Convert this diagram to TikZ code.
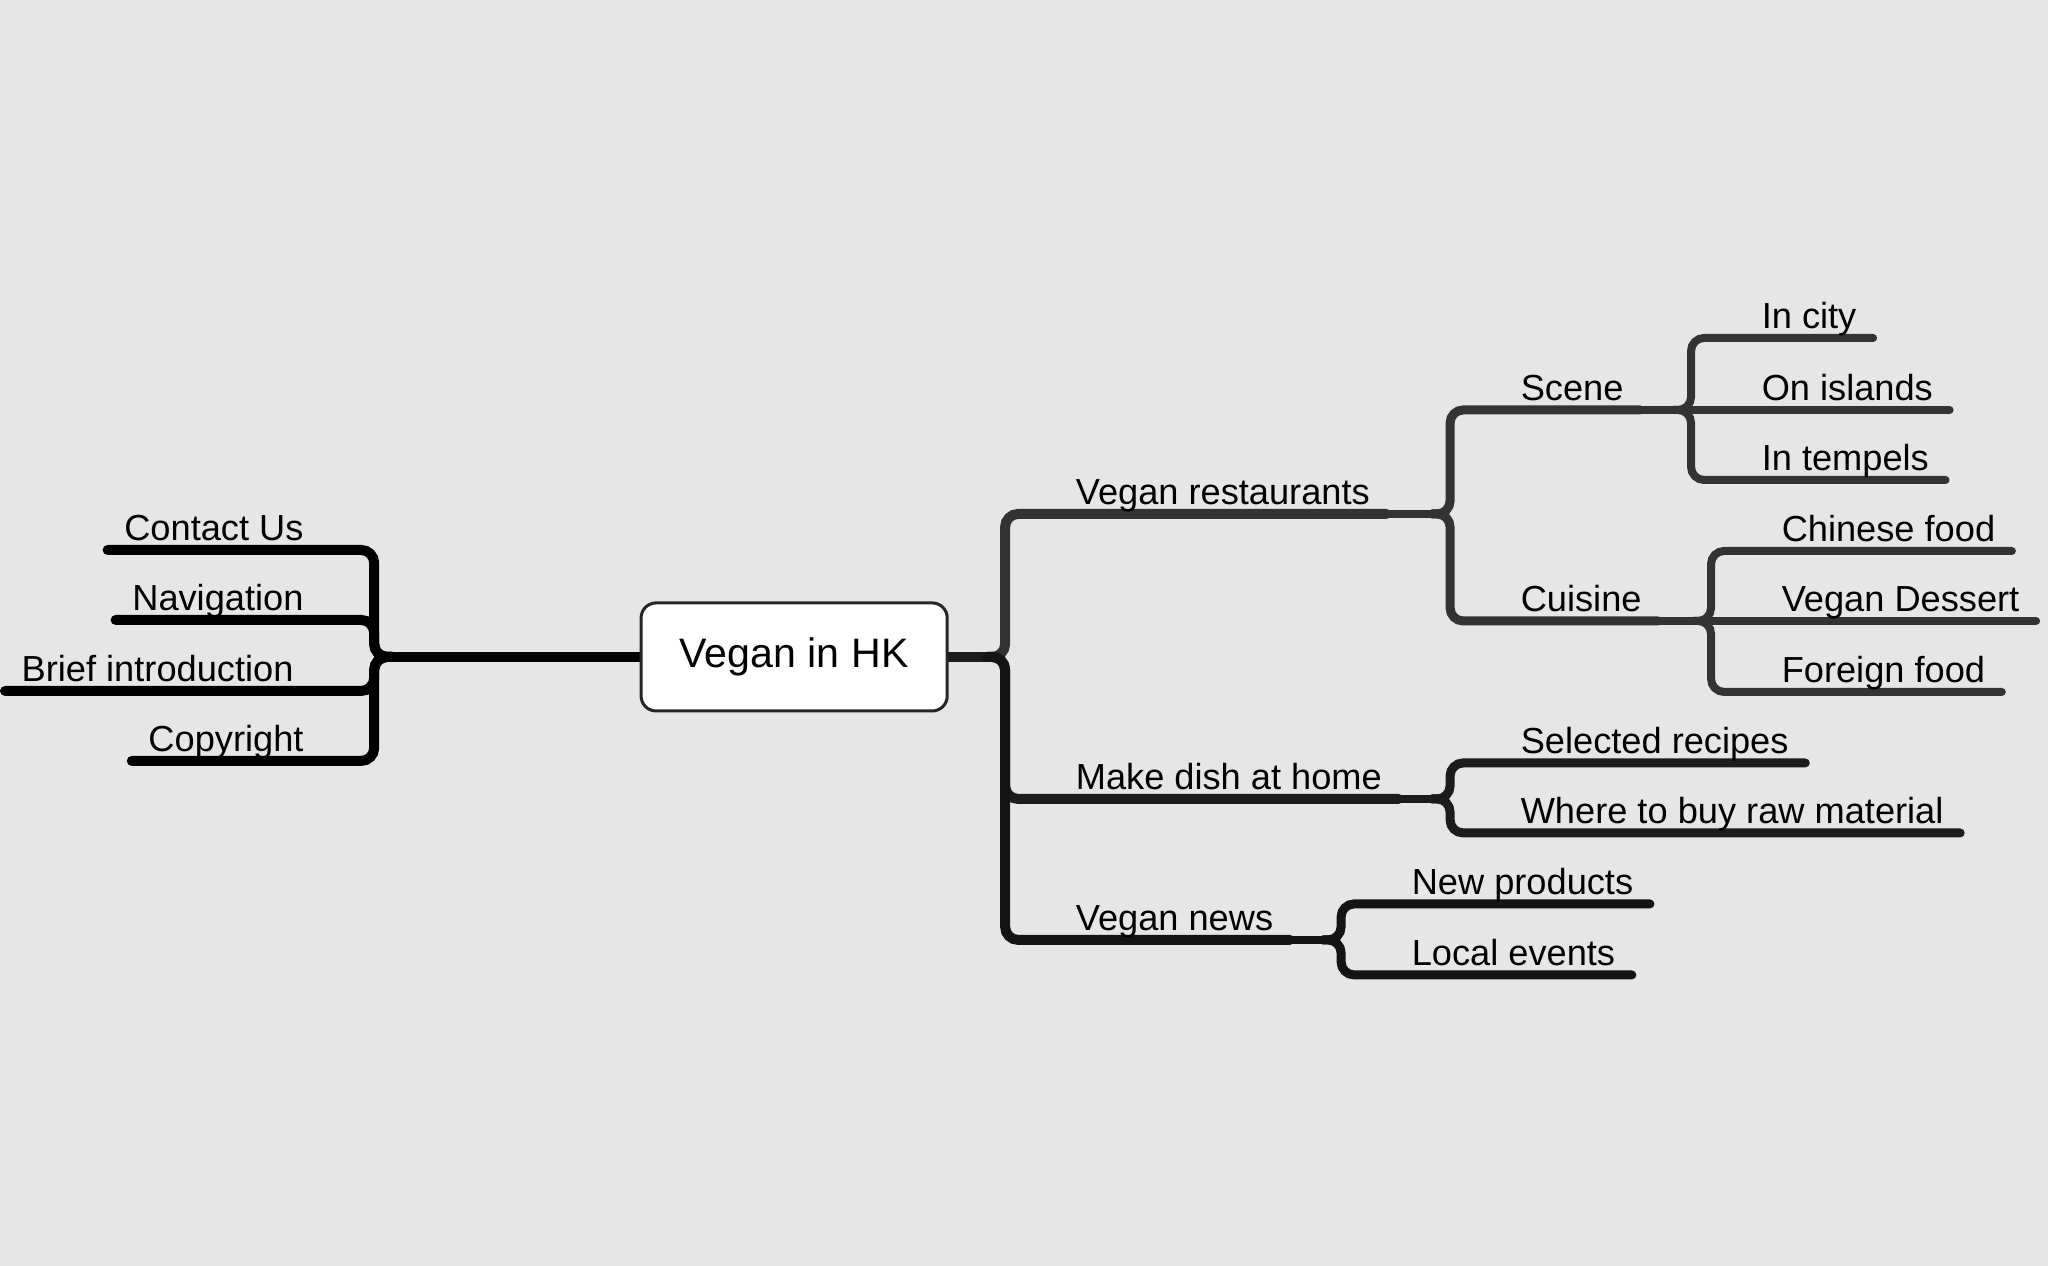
\documentclass[tikz,border=0pt]{standalone}
\usepackage{fontspec}
\setmainfont{Liberation Sans}
\definecolor{bgcol}{HTML}{E6E6E6}
\definecolor{restcol}{HTML}{333333}
\definecolor{dishcol}{HTML}{1C1C1C}
\definecolor{newscol}{HTML}{141414}
\pgfdeclarelayer{lines}
\pgfsetlayers{lines,main}
\begin{document}
\begin{tikzpicture}[x=0.01cm,y=-0.01cm,
  topic/.style={inner xsep=0.16cm,inner ysep=0.09cm,text depth=0pt,font=\fontsize{10.3}{12}\selectfont},
  rtopic/.style={topic,anchor=south west},
  ltopic/.style={topic,anchor=south east},
  branch/.style={line cap=round,rounded corners=0.13cm},
  lvl1/.style={branch,line width=0.10cm},
  lvl2/.style={branch,line width=0.09cm},
  lvl3/.style={branch,line width=0.08cm},
  stub/.style={line cap=round,line width=0.08cm}]

\begin{pgfonlayer}{lines}
\useasboundingbox[fill=bgcol] (0,0) rectangle (2048,1266);
\end{pgfonlayer}

\node[draw=black!85,fill=white,rounded corners=0.15cm,line width=0.03cm,minimum width=3.06cm,minimum height=1.08cm,font=\fontsize{11.7}{14}\selectfont] (root) at (794,657) {Vegan in HK};

% left side
\node[ltopic] (contact) at (320,550) {Contact Us};
\node[ltopic] (navigation) at (320,620) {Navigation};
\node[ltopic] (brief) at (310,691) {Brief introduction};
\node[ltopic] (copyright) at (320,761) {Copyright};

% right side
\node[rtopic] (rest) at (1059,514) {Vegan restaurants};
\node[rtopic] (dish) at (1059,799) {Make dish at home};
\node[rtopic] (news) at (1059,940) {Vegan news};

\node[rtopic] (scene) at (1504,410) {Scene};
\node[rtopic] (cuisine) at (1504,621) {Cuisine};
\node[rtopic] (recipes) at (1504,763) {Selected recipes};
\node[rtopic] (buy) at (1504,833) {Where to buy raw material};
\node[rtopic] (products) at (1395,904) {New products};
\node[rtopic] (events) at (1395,975) {Local events};

\node[rtopic] (city) at (1745,338) {In city};
\node[rtopic] (islands) at (1745,410) {On islands};
\node[rtopic] (tempels) at (1745,480) {In tempels};
\node[rtopic] (chinese) at (1765,551) {Chinese food};
\node[rtopic] (dessert) at (1765,621) {Vegan Dessert};
\node[rtopic] (foreign) at (1765,692) {Foreign food};

% bars and junctions
\coordinate (b-left) at (374,657);   \coordinate (j-left) at (392,657);
\coordinate (b-right) at (1005,657); \coordinate (j-right) at (987,657);
\coordinate (b-rest) at (1450,514);  \coordinate (j-rest) at (1432,514);
\coordinate (b-dish) at (1450,799);  \coordinate (j-dish) at (1432,799);
\coordinate (b-news) at (1341,940);  \coordinate (j-news) at (1323,940);
\coordinate (b-scene) at (1691,410); \coordinate (j-scene) at (1673,410);
\coordinate (b-cuis) at (1711,621);  \coordinate (j-cuis) at (1693,621);

\begin{pgfonlayer}{lines}
\draw[lvl1] (root.west) -- (j-left);
\foreach \nm in {contact,navigation,brief,copyright}{
\draw[lvl1] (j-left) -| (b-left |- \nm.south east) -- (\nm.south west);
}

\draw[lvl1,dishcol] (root.east) -- (j-right);
\foreach \nm/\col in {rest/restcol,dish/dishcol,news/newscol}{
\draw[lvl1,\col] (j-right) -| (b-right |- \nm.south west) -- (\nm.south east);
}

\draw[stub,restcol] (rest.south east) -- (j-rest);
\foreach \nm in {scene,cuisine}{
\draw[lvl2,restcol] (j-rest) -| (b-rest |- \nm.south west) -- (\nm.south east);
}
\draw[stub,dishcol] (dish.south east) -- (j-dish);
\foreach \nm in {recipes,buy}{
\draw[lvl2,dishcol] (j-dish) -| (b-dish |- \nm.south west) -- (\nm.south east);
}
\draw[stub,newscol] (news.south east) -- (j-news);
\foreach \nm in {products,events}{
\draw[lvl2,newscol] (j-news) -| (b-news |- \nm.south west) -- (\nm.south east);
}

\draw[stub,restcol] (scene.south east) -- (j-scene);
\draw[lvl3,restcol] (j-scene) -- (islands.south east);
\foreach \nm in {city,tempels}{
\draw[lvl3,restcol] (j-scene) -| (b-scene |- \nm.south west) -- (\nm.south east);
}
\draw[stub,restcol] (cuisine.south east) -- (j-cuis);
\draw[lvl3,restcol] (j-cuis) -- (dessert.south east);
\foreach \nm in {chinese,foreign}{
\draw[lvl3,restcol] (j-cuis) -| (b-cuis |- \nm.south west) -- (\nm.south east);
}
\end{pgfonlayer}

\end{tikzpicture}
\end{document}
